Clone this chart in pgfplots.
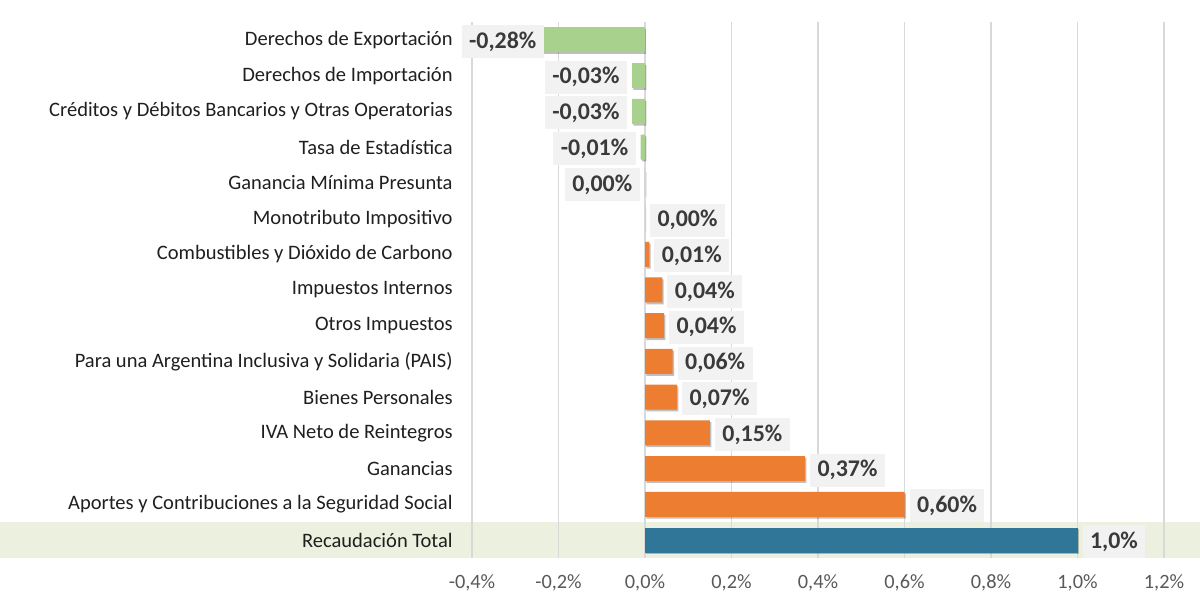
\documentclass[border=0pt]{standalone}
\usepackage{pgfplots}
\pgfplotsset{compat=1.18}
\usetikzlibrary{shadows}
\usepackage{fontspec}
\setmainfont{Carlito}
\definecolor{cgreen}{HTML}{A9D18E}
\definecolor{corange}{HTML}{ED7D31}
\definecolor{cblue}{HTML}{2F7699}
\definecolor{bandc}{HTML}{EBF1DE}
\definecolor{gridc}{HTML}{D9D9D9}
\definecolor{tickc}{HTML}{595959}
\definecolor{catc}{HTML}{1F1F1F}
\definecolor{labc}{HTML}{3A3A3A}
\definecolor{labbg}{HTML}{F2F2F2}
\begin{document}
\begin{tikzpicture}
\useasboundingbox (0,0) rectangle (600bp,304.5bp);
\fill[bandc] (0,25.5bp) rectangle (600bp,43.37bp);
\begin{axis}[
  at={(236bp,25.5bp)}, anchor=south west,
  scale only axis, width=346bp, height=268bp,
  xmin=-0.4, xmax=1.2, ymin=-0.5, ymax=14.5,
  xtick={-0.4,-0.2,0,0.2,0.4,0.6,0.8,1.0,1.2},
  xticklabels={{-0,4\%},{-0,2\%},{0,0\%},{0,2\%},{0,4\%},{0,6\%},{0,8\%},{1,0\%},{1,2\%}},
  ytick={0,...,14},
  yticklabels={Recaudación Total,
    Aportes y Contribuciones a la Seguridad Social,
    Ganancias,
    IVA Neto de Reintegros,
    Bienes Personales,
    Para una Argentina Inclusiva y Solidaria (PAIS),
    Otros Impuestos,
    Impuestos Internos,
    Combustibles y Dióxido de Carbono,
    Monotributo Impositivo,
    Ganancia Mínima Presunta,
    Tasa de Estadística,
    Créditos y Débitos Bancarios y Otras Operatorias,
    Derechos de Importación,
    Derechos de Exportación},
  xmajorgrids, grid style={draw=gridc, line width=0.6bp},
  axis line style={draw=none}, major tick length=0pt,
  xticklabel style={font=\fontsize{10.2}{12}\selectfont, text=tickc, inner sep=0pt, anchor=north, yshift=-8bp},
  yticklabel style={font=\fontsize{10.3}{12}\selectfont, text=catc, inner sep=0pt, anchor=east, xshift=-9.5bp},
  point meta=explicit symbolic,
  nodes near coords={\pgfplotspointmeta\%},
  nodes near coords style={font=\bfseries\fontsize{12}{14}\selectfont, text=labc, fill=labbg,
    inner xsep=3.75bp, inner ysep=0pt, minimum height=16.5bp, outer sep=2.5bp, yshift=-0.8bp},
  every axis plot/.append style={drop shadow={shadow xshift=0.7bp, shadow yshift=-0.9bp, opacity=0.25, fill=black}},
  clip=false,
]
% Derechos de Exportacion (label shifted over bar)
\addplot[xbar, bar width=12.5bp, bar shift=0pt, fill=cgreen, draw=none,
  nodes near coords style={anchor=east, xshift=12.5bp}]
  table[x=x, y=y, meta=l] {
x y l
-0.28 14 -0,28
};
% other negatives
\addplot[xbar, bar width=12.5bp, bar shift=0pt, fill=cgreen, draw=none,
  nodes near coords style={anchor=east}]
  table[x=x, y=y, meta=l] {
x y l
-0.03 13 -0,03
-0.03 12 -0,03
-0.01 11 -0,01
-0.0005 10 0,00
};
% positives
\addplot[xbar, bar width=12.5bp, bar shift=0pt, fill=corange, draw=none,
  nodes near coords style={anchor=west}]
  table[x=x, y=y, meta=l] {
x y l
0.0 9 0,00
0.01 8 0,01
0.04 7 0,04
0.044 6 0,04
0.064 5 0,06
0.074 4 0,07
0.15 3 0,15
0.37 2 0,37
0.60 1 0,60
};
% total
\addplot[xbar, bar width=12.5bp, bar shift=0pt, fill=cblue, draw=none,
  nodes near coords style={anchor=west}]
  table[x=x, y=y, meta=l] {
x y l
1.0 0 1,0
};
\end{axis}
\end{tikzpicture}
\end{document}
